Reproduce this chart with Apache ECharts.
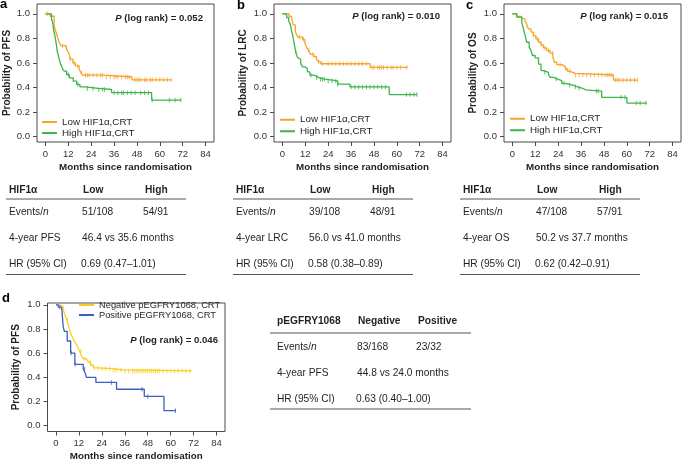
<!DOCTYPE html>
<html><head><meta charset="utf-8">
<script src="https://cdn.jsdelivr.net/npm/echarts@6/dist/echarts.min.js"></script>
<style>html,body{margin:0;padding:0;background:#fff}#c{width:685px;height:462px}</style>
</head><body><div id="c"></div>
<script>
// ---------------- DATA ----------------
const monthTicks = [0, 12, 24, 36, 48, 60, 72, 84];
const probTicks = [0, 0.2, 0.4, 0.6, 0.8, 1.0];

// Panel a: PFS by HIF1a  [month, survival]
const pfsLow = [[0,1],[2.4,0.98],[4.6,0.9],[5.6,0.85],[6.5,0.80],[7.4,0.76],[8.2,0.74],[10.9,0.72],[11.8,0.695],[12.6,0.668],[13,0.63],[14.4,0.60],[15.7,0.575],[17.7,0.548],[18.6,0.52],[19.5,0.50],[30.5,0.485],[45.4,0.462],[66,0.462]];
const pfsLowCens = [1,9,11,13,15,17,19,21,22,23,25,27,29,30,32,34,36,37,38,40,42,43,44,47,48,49,50,52,53,55,56,58,60,62,64,66];
const pfsHigh = [[0,1],[3.2,0.96],[3.8,0.93],[4.3,0.87],[5,0.82],[5.6,0.765],[6.2,0.695],[7.1,0.64],[8,0.59],[9,0.552],[9.9,0.533],[11.1,0.505],[12.5,0.478],[14.6,0.451],[16.4,0.424],[18.1,0.405],[20.8,0.392],[27.7,0.383],[34.7,0.357],[55.7,0.297],[71,0.297]];
const pfsHighCens = [12,17,22,25,28,30,31,36,38,40,41,43,45,47,50,52,54,56,65,68,71];

// Panel b: LRC by HIF1a
const lrcLow = [[0,1],[3.5,0.98],[4.7,0.965],[5.7,0.91],[6.8,0.855],[7.4,0.83],[8.3,0.81],[10.7,0.79],[11.8,0.76],[12.7,0.73],[13.5,0.705],[14.1,0.686],[14.9,0.669],[16.5,0.65],[17.9,0.63],[18.8,0.61],[20,0.593],[46,0.563],[65.8,0.563]];
const lrcLowCens = [9,11,14,16,19,21,24,26,28,30,32,34,36,38,40,42,44,47,48,50,51,52,53,55,57,58,60,62,65];
const lrcHigh = [[0,1],[2.2,0.97],[3.3,0.945],[4.2,0.91],[4.7,0.869],[5.3,0.83],[6,0.773],[6.5,0.73],[7,0.69],[7.9,0.645],[8.8,0.63],[9.6,0.596],[10.5,0.568],[11.8,0.554],[13.1,0.527],[14.4,0.50],[16.1,0.492],[17.9,0.478],[19.3,0.467],[22.3,0.453],[29,0.426],[35.4,0.404],[56,0.342],[70.7,0.342]];
const lrcHighCens = [7,15,18,20,21,22,24,26,28,29,36,38,40,42,44,46,48,50,52,54,65,67,69,70.5];

// Panel c: OS by HIF1a
const osLow = [[0,1],[2.3,0.978],[4.9,0.96],[6.6,0.94],[7.5,0.913],[8.4,0.877],[9.8,0.85],[11,0.823],[12.3,0.796],[13.7,0.768],[15,0.747],[16.3,0.722],[18,0.70],[19.8,0.68],[21.2,0.646],[22,0.605],[23.3,0.586],[25.9,0.572],[27.7,0.55],[28.9,0.531],[30.3,0.515],[32.9,0.501],[53,0.46],[65.6,0.46]];
const osLowCens = [11,13,15,17,19,21,25,28,30,33,35,37,39,41,43,45,47,49,50,51,52,54,55,56,58,60,62,64,65.5];
const osHigh = [[0,1],[2.3,0.973],[4.9,0.93],[5.8,0.877],[6.7,0.823],[7.5,0.768],[8.8,0.727],[9.8,0.70],[10.5,0.66],[11.9,0.64],[13.7,0.59],[15,0.537],[16.3,0.523],[18.9,0.504],[19.8,0.482],[21.5,0.469],[23.3,0.455],[25.9,0.433],[27.7,0.42],[31.2,0.406],[33.8,0.395],[36.4,0.38],[38.5,0.37],[46.8,0.319],[60,0.272],[70.5,0.272]];
const osHighCens = [17,23,27,30,33,35,44,45,57,59,65,67,70];

// Panel d: PFS by pEGFRY1068
const egfrNeg = [[0,1],[2,0.986],[3.8,0.959],[4.7,0.918],[5.6,0.877],[6.4,0.836],[7.3,0.78],[8.2,0.745],[9,0.718],[9.9,0.69],[10.8,0.671],[11.7,0.636],[12.5,0.616],[13.4,0.575],[14.3,0.553],[16,0.542],[16.9,0.526],[18.1,0.499],[19.5,0.479],[20.4,0.471],[29.1,0.46],[35.2,0.452],[70.9,0.452]];
const egfrNegCens = [6,13,15,18,20,22,24,26,28,30,31,32,34,36,38,40,41,42,43,44,45,46,47,48,49,50,51,52,53,54,56,58,60,62,64,66,68,70];
const egfrPos = [[0,1],[1.2,0.98],[3,0.97],[3.4,0.9],[3.8,0.82],[4.4,0.78],[5.9,0.70],[7.7,0.60],[9.9,0.507],[14.3,0.466],[15.2,0.439],[16,0.398],[20.9,0.357],[31.7,0.30],[46.2,0.241],[56.5,0.123],[62.7,0.123]];
const egfrPosCens = [2,8,10,15,29,45,48,62.5];

// Labels
const hifGroups = ['Low HIF1α,CRT', 'High HIF1α,CRT'];
const egfrGroups = ['Negative pEGFRY1068, CRT', 'Positive pEGFRY1068, CRT'];
const pValues = ['0.052', '0.010', '0.015', '0.046'];
const yTitles = ['Probability of PFS', 'Probability of LRC', 'Probability of OS', 'Probability of PFS'];
const xTitle = 'Months since randomisation';
const panelLetters = ['a', 'b', 'c', 'd'];

// Tables
const tableHeadA = ['HIF1α', 'Low', 'High'];
const tableEventsA = ['51/108', '54/91'];
const tableYearA = ['4-year PFS', '46.4 vs 35.6 months'];
const tableHrA = ['HR (95% CI)', '0.69 (0.47–1.01)'];
const tableHeadB = ['HIF1α', 'Low', 'High'];
const tableEventsB = ['39/108', '48/91'];
const tableYearB = ['4-year LRC', '56.0 vs 41.0 months'];
const tableHrB = ['HR (95% CI)', '0.58 (0.38–0.89)'];
const tableHeadC = ['HIF1α', 'Low', 'High'];
const tableEventsC = ['47/108', '57/91'];
const tableYearC = ['4-year OS', '50.2 vs 37.7 months'];
const tableHrC = ['HR (95% CI)', '0.62 (0.42–0.91)'];
const tableHeadD = ['pEGFRY1068', 'Negative', 'Positive'];
const tableEventsD = ['83/168', '23/32'];
const tableYearD = ['4-year PFS', '44.8 vs 24.0 months'];
const tableHrD = ['HR (95% CI)', '0.63 (0.40–1.00)'];

// ---------------- STYLE / LAYOUT ----------------
const FONT = '"Liberation Sans", Arial, Helvetica, sans-serif';
const TXT = '#231f20';
const AX = '#4a4a4a';
const ORANGE = '#F7A42E', GREEN = '#3DB54A', YELLOW = '#F8CF1D', BLUE = '#3E5FC2';
const TFS = 10.2;

const panels = [
  {grid:{left:37,top:4,width:177,height:138}, ymin:-0.045, ymax:1.08, yGap:25, xGap:20.5,
   curves:[[pfsLow,pfsLowCens,ORANGE],[pfsHigh,pfsHighCens,GREEN]], names:hifGroups,
   legend:{left:42,top:116.5,fs:9.8,lh:11}, p:{x:203,y:18.3}, letter:{x:0,y:4}},
  {grid:{left:274,top:4,width:177,height:138}, ymin:-0.045, ymax:1.08, yGap:26, xGap:20,
   curves:[[lrcLow,lrcLowCens,ORANGE],[lrcHigh,lrcHighCens,GREEN]], names:hifGroups,
   legend:{left:280,top:114,fs:9.8,lh:11.5}, p:{x:440,y:16.7}, letter:{x:237,y:5}},
  {grid:{left:504,top:4,width:177,height:138}, ymin:-0.045, ymax:1.08, yGap:26, xGap:20,
   curves:[[osLow,osLowCens,ORANGE],[osHigh,osHighCens,GREEN]], names:hifGroups,
   legend:{left:510,top:113,fs:9.8,lh:11.5}, p:{x:668,y:16}, letter:{x:466,y:5}},
  {grid:{left:47.5,top:303,width:177.5,height:130}, ymin:-0.05, ymax:1.015, yGap:26.5, xGap:19.5,
   curves:[[egfrNeg,egfrNegCens,YELLOW],[egfrPos,egfrPosCens,BLUE]], names:egfrGroups,
   legend:{left:79,top:300,fs:9.3,lh:10}, p:{x:218,y:340.7}, letter:{x:2,y:298}}
];

const tables = [
  {x0:9, cols:[0,74,136], lineX:[6,186], y:{head:190,l1:199,r:[212,238,264.5],l2:274.5},
   head:tableHeadA, ev:tableEventsA, yr:tableYearA, hr:tableHrA},
  {x0:236, cols:[0,74,136], lineX:[233,413], y:{head:190,l1:199,r:[212,238,264.5],l2:274.5},
   head:tableHeadB, ev:tableEventsB, yr:tableYearB, hr:tableHrB},
  {x0:463, cols:[0,74,136], lineX:[460,640], y:{head:190,l1:199,r:[212,238,264.5],l2:274.5},
   head:tableHeadC, ev:tableEventsC, yr:tableYearC, hr:tableHrC},
  {x0:277, cols:[0,81,141], lineX:[270,471], y:{head:321,l1:333,r:[347,373,399],l2:409},
   head:tableHeadD, ev:tableEventsD, yr:tableYearD, hr:tableHrD}
];

function survAt(curve, t) {
  let s = curve[0][1];
  for (const [tt, v] of curve) { if (tt <= t) s = v; else break; }
  return s;
}

const grid = [], xAxis = [], yAxis = [], series = [], legend = [], graphic = [];

panels.forEach((p, i) => {
  grid.push(Object.assign({show:true, borderColor:AX, borderWidth:1, backgroundColor:'transparent'}, p.grid));
  xAxis.push({
    type:'value', gridIndex:i, min:-4.4, max:88.4,
    name:xTitle, nameLocation:'middle', nameGap:p.xGap,
    nameTextStyle:{fontFamily:FONT, fontWeight:'bold', fontSize:9.8, color:TXT},
    axisLine:{show:false, onZero:false}, splitLine:{show:false},
    axisTick:{show:true, customValues:monthTicks, length:4, lineStyle:{color:AX, width:1}},
    axisLabel:{show:true, customValues:monthTicks, margin:7, fontFamily:FONT, fontSize:9.5, color:'#333'}
  });
  yAxis.push({
    type:'value', gridIndex:i, min:p.ymin, max:p.ymax,
    name:yTitles[i], nameLocation:'middle', nameGap:p.yGap,
    nameTextStyle:{fontFamily:FONT, fontWeight:'bold', fontSize:10, color:TXT},
    axisLine:{show:false, onZero:false}, splitLine:{show:false},
    axisTick:{show:true, customValues:probTicks, length:4, lineStyle:{color:AX, width:1}},
    axisLabel:{show:true, customValues:probTicks, margin:7, fontFamily:FONT, fontSize:9.5, color:'#333',
      formatter:v => v.toFixed(1)}
  });
  p.curves.forEach(([curve, cens, color], k) => {
    series.push({
      type:'line', name:p.names[k], xAxisIndex:i, yAxisIndex:i, step:'end',
      data:curve, showSymbol:false, symbol:'none', color:color,
      lineStyle:{color:color, width:1.3}, itemStyle:{color:color}, z:3, silent:true
    });
    series.push({
      type:'scatter', name:'cens-' + i + '-' + k, xAxisIndex:i, yAxisIndex:i,
      data:cens.map(t => [t, survAt(curve, t)]),
      symbol:'rect', symbolSize:[1, 4.5], itemStyle:{color:color, opacity:0.8}, z:4, silent:true
    });
  });
  legend.push({
    data:p.names, orient:'vertical', left:p.legend.left, top:p.legend.top, padding:0,
    icon:'rect', itemWidth:15, itemHeight:2, itemGap:0, selectedMode:false,
    textStyle:{fontFamily:FONT, fontSize:p.legend.fs, lineHeight:p.legend.lh, color:TXT}
  });
  graphic.push({
    type:'text', x:p.p.x, y:p.p.y,
    style:{text:'{i|P}{b| (log rank) = ' + pValues[i] + '}', align:'right', verticalAlign:'middle',
      rich:{i:{fontFamily:FONT, fontWeight:'bold', fontStyle:'italic', fontSize:9.6, fill:TXT},
            b:{fontFamily:FONT, fontWeight:'bold', fontSize:9.6, fill:TXT}}}
  });
  graphic.push({
    type:'text', x:p.letter.x, y:p.letter.y,
    style:{text:panelLetters[i], font:'bold 13px ' + FONT, fill:'#000', align:'left', verticalAlign:'middle'}
  });
});

function tText(x, y, text) {
  return {type:'text', x:x, y:y, style:{text:text, align:'left', verticalAlign:'middle',
    rich:{n:{fontFamily:FONT, fontSize:TFS, fill:TXT}, it:{fontFamily:FONT, fontSize:TFS, fontStyle:'italic', fill:TXT},
          h:{fontFamily:FONT, fontSize:TFS, fontWeight:'bold', fill:TXT}},
    fontFamily:FONT, fontSize:TFS, fill:TXT}};
}
function hLine(x1, x2, y) {
  return {type:'line', shape:{x1:x1, y1:y, x2:x2, y2:y}, style:{stroke:'#555', lineWidth:1.2}};
}
tables.forEach(t => {
  const x = t.x0;
  graphic.push(tText(x + t.cols[0], t.y.head, '{h|' + t.head[0] + '}'));
  graphic.push(tText(x + t.cols[1], t.y.head, '{h|' + t.head[1] + '}'));
  graphic.push(tText(x + t.cols[2], t.y.head, '{h|' + t.head[2] + '}'));
  graphic.push(hLine(t.lineX[0], t.lineX[1], t.y.l1));
  graphic.push(tText(x, t.y.r[0], '{n|Events/}{it|n}'));
  graphic.push(tText(x + t.cols[1] - 1, t.y.r[0], '{n|' + t.ev[0] + '}'));
  graphic.push(tText(x + t.cols[2] - 2, t.y.r[0], '{n|' + t.ev[1] + '}'));
  graphic.push(tText(x, t.y.r[1], '{n|' + t.yr[0] + '}'));
  graphic.push(tText(x + t.cols[1] - 1, t.y.r[1], '{n|' + t.yr[1] + '}'));
  graphic.push(tText(x, t.y.r[2], '{n|' + t.hr[0] + '}'));
  graphic.push(tText(x + t.cols[1] - 2, t.y.r[2], '{n|' + t.hr[1] + '}'));
  graphic.push(hLine(t.lineX[0], t.lineX[1], t.y.l2));
});

const chart = echarts.init(document.getElementById('c'), null, {renderer:'canvas'});
chart.setOption({
  animation:false, backgroundColor:'#fff',
  grid, xAxis, yAxis, series, legend, graphic
});
</script>
</body></html>
